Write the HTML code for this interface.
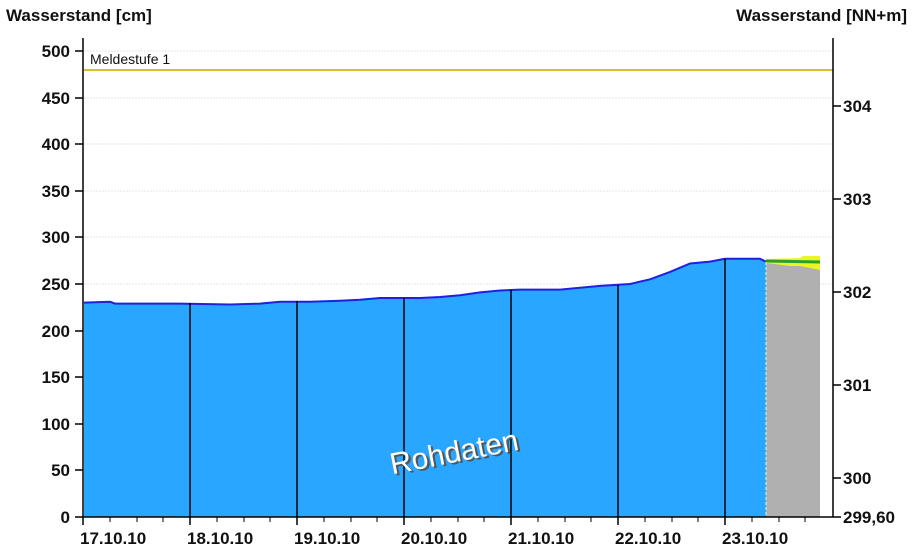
<!DOCTYPE html><html><head><style>body{margin:0;background:#fff}svg{display:block}text{font-family:"Liberation Sans",Arial,sans-serif}</style></head><body>
<svg width="913" height="553" xmlns="http://www.w3.org/2000/svg">
<rect width="913" height="553" fill="#fff"/>
<g stroke="#e4e4e4" stroke-dasharray="2,1">
<line x1="84" x2="833" y1="51" y2="51"/><line x1="84" x2="833" y1="98" y2="98"/><line x1="84" x2="833" y1="144" y2="144"/><line x1="84" x2="833" y1="191" y2="191"/><line x1="84" x2="833" y1="237" y2="237"/><line x1="84" x2="833" y1="284" y2="284"/>
</g>
<line x1="84" x2="833" y1="70" y2="70" stroke="#d8c030" stroke-width="2"/>
<text x="90" y="64" font-size="14" fill="#111">Meldestufe 1</text>
<polygon fill="#29a6ff" points="84,517 84,302.6 110,301.7 115,303.6 180,303.6 230,304.5 260,303.6 280,301.7 310,301.7 340,300.8 360,299.8 380,298 420,298 440,297 460,295.2 480,292.4 500,290.5 520,289.6 560,289.6 580,287.7 600,285.9 630,284 650,279.3 670,271.9 690,263.5 710,261.6 725,258.8 760,258.8 766,261.6 766,517"/>
<polyline fill="none" stroke="#2020e0" stroke-width="2" points="84,302.6 110,301.7 115,303.6 180,303.6 230,304.5 260,303.6 280,301.7 310,301.7 340,300.8 360,299.8 380,298 420,298 440,297 460,295.2 480,292.4 500,290.5 520,289.6 560,289.6 580,287.7 600,285.9 630,284 650,279.3 670,271.9 690,263.5 710,261.6 725,258.8 760,258.8 766,261.6"/>
<polygon fill="#ecf520" points="766,259 800,258 803,256 820,256 820,270 800,268 766,265"/>
<polygon fill="#b0b0b0" points="766,263 790,266 800,266 810,268 820,270 820,517 766,517"/>
<line x1="766" x2="820" y1="261" y2="262" stroke="#2aa02a" stroke-width="3"/>
<line x1="766" x2="766" y1="262" y2="517" stroke="#d0ffd0" stroke-dasharray="3,2"/>
<g stroke="#000" stroke-width="1.5">
<line x1="190" x2="190" y1="303" y2="525"/><line x1="297" x2="297" y1="301" y2="525"/><line x1="404" x2="404" y1="298" y2="525"/><line x1="511" x2="511" y1="290" y2="525"/><line x1="618" x2="618" y1="285" y2="525"/><line x1="725" x2="725" y1="259" y2="525"/>
</g>
<g stroke="#000" stroke-width="1.5">
<line x1="83" x2="83" y1="38" y2="525"/><line x1="833" x2="833" y1="38" y2="517"/><line x1="83" x2="833" y1="517" y2="517"/>
<line x1="75" x2="83" y1="51" y2="51"/><line x1="75" x2="83" y1="98" y2="98"/><line x1="75" x2="83" y1="144" y2="144"/><line x1="75" x2="83" y1="191" y2="191"/><line x1="75" x2="83" y1="237" y2="237"/><line x1="75" x2="83" y1="284" y2="284"/><line x1="75" x2="83" y1="331" y2="331"/><line x1="75" x2="83" y1="377" y2="377"/><line x1="75" x2="83" y1="424" y2="424"/><line x1="75" x2="83" y1="470" y2="470"/><line x1="75" x2="83" y1="517" y2="517"/>
<line x1="833" x2="841" y1="106" y2="106"/><line x1="833" x2="841" y1="199" y2="199"/><line x1="833" x2="841" y1="292" y2="292"/><line x1="833" x2="841" y1="385" y2="385"/><line x1="833" x2="841" y1="478" y2="478"/><line x1="833" x2="841" y1="517" y2="517"/>
</g>
<g stroke="#000" stroke-width="1">
<line x1="110" x2="110" y1="517" y2="522"/><line x1="137" x2="137" y1="517" y2="522"/><line x1="163" x2="163" y1="517" y2="522"/>
<line x1="217" x2="217" y1="517" y2="522"/><line x1="244" x2="244" y1="517" y2="522"/><line x1="270" x2="270" y1="517" y2="522"/>
<line x1="324" x2="324" y1="517" y2="522"/><line x1="351" x2="351" y1="517" y2="522"/><line x1="377" x2="377" y1="517" y2="522"/>
<line x1="431" x2="431" y1="517" y2="522"/><line x1="458" x2="458" y1="517" y2="522"/><line x1="484" x2="484" y1="517" y2="522"/>
<line x1="538" x2="538" y1="517" y2="522"/><line x1="565" x2="565" y1="517" y2="522"/><line x1="591" x2="591" y1="517" y2="522"/>
<line x1="645" x2="645" y1="517" y2="522"/><line x1="672" x2="672" y1="517" y2="522"/><line x1="698" x2="698" y1="517" y2="522"/>
<line x1="752" x2="752" y1="517" y2="522"/><line x1="779" x2="779" y1="517" y2="522"/><line x1="805" x2="805" y1="517" y2="522"/>
</g>
<g font-size="17" font-weight="bold" fill="#111" text-anchor="end">
<text x="70" y="57">500</text><text x="70" y="104">450</text><text x="70" y="150">400</text><text x="70" y="197">350</text><text x="70" y="243">300</text><text x="70" y="290">250</text><text x="70" y="337">200</text><text x="70" y="383">150</text><text x="70" y="430">100</text><text x="70" y="476">50</text><text x="70" y="523">0</text>
</g>
<g font-size="17" font-weight="bold" fill="#111">
<text x="843" y="112">304</text><text x="843" y="205">303</text><text x="843" y="298">302</text><text x="843" y="391">301</text><text x="843" y="484">300</text><text x="843" y="523">299,60</text>
<text x="80" y="544">17.10.10</text><text x="187" y="544">18.10.10</text><text x="294" y="544">19.10.10</text><text x="401" y="544">20.10.10</text><text x="508" y="544">21.10.10</text><text x="615" y="544">22.10.10</text><text x="722" y="544">23.10.10</text>
<text x="6" y="21">Wasserstand [cm]</text><text x="907" y="21" text-anchor="end">Wasserstand [NN+m]</text>
</g>
<g transform="translate(456,462) rotate(-11)" font-size="30" text-anchor="middle">
<text x="2" y="2" fill="#555">Rohdaten</text><text x="0" y="0" fill="#fff">Rohdaten</text>
</g>
</svg></body></html>
